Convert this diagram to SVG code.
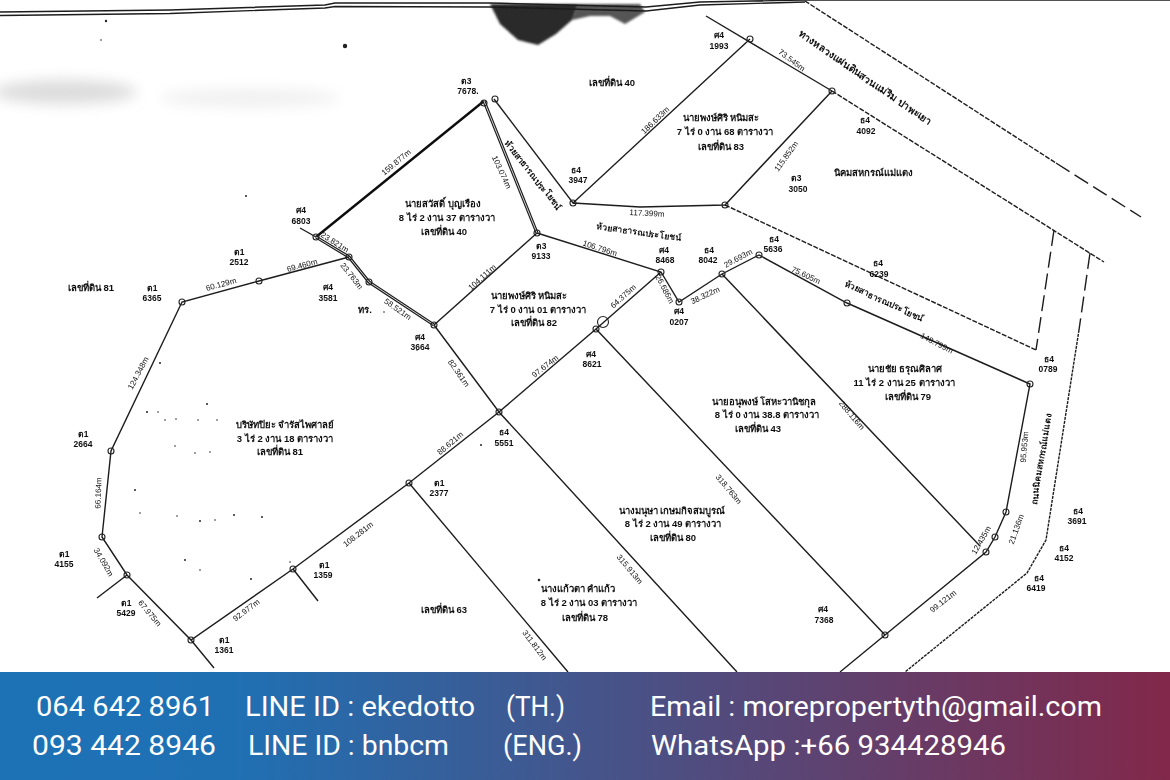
<svg xmlns="http://www.w3.org/2000/svg" width="1170" height="780" viewBox="0 0 1170 780">
<style>
.l{fill:none;stroke:#1c1c1c;stroke-width:1.4}
.th{stroke-width:2.4;stroke:#111}
.in{stroke:#fff;stroke-width:.8}
.d{stroke-dasharray:5 1.5}
.ld{stroke-dasharray:16 6}
circle.n{fill:none;stroke:#222;stroke-width:1.1}
text{font-family:"Liberation Sans","Noto Sans",sans-serif;fill:#111}
.id{font-size:8.5px;text-anchor:middle;font-weight:700}
.o{font-size:9.5px;text-anchor:middle;font-weight:700}
.m{font-size:8px;text-anchor:middle}
.r{font-size:8.6px;text-anchor:middle;font-weight:700}
.b{font-family:"Roboto","Open Sans",sans-serif;font-size:27px;fill:#fff}
.s{fill:#222}
</style>
<defs>
<linearGradient id="g" x1="0" x2="1" y1="0" y2="0"><stop offset="0" stop-color="#1c72b5"/><stop offset=".2" stop-color="#1f70b3"/><stop offset="1" stop-color="#82284a"/></linearGradient>
<pattern id="dots" width="3" height="3" patternUnits="userSpaceOnUse"><rect width="3" height="3" fill="#111"/><circle cx="1" cy="1" r=".7" fill="#888"/></pattern>
<filter id="sc" x="-2%" y="-2%" width="104%" height="104%"><feGaussianBlur stdDeviation=".3"/></filter>
<filter id="sm" x="-20%" y="-50%" width="140%" height="200%"><feGaussianBlur stdDeviation="7"/></filter>
<filter id="bl" x="-20%" y="-50%" width="140%" height="200%"><feGaussianBlur stdDeviation="1"/></filter>
</defs>
<rect width="1170" height="780" fill="#fff"/>
<g id="smudge" filter="url(#sm)" fill="#dcdcdc">
<ellipse cx="65" cy="92" rx="72" ry="12"/><ellipse cx="250" cy="98" rx="90" ry="9" fill="#f0f0f0"/>
</g>
<g id="blob" filter="url(#bl)">
<path fill="url(#dots)" d="M490 4 578 4 572 20 556 34 538 45 518 40 500 24Z"/>
<path fill="#555" d="M578 4 640 4 645 12 625 24 610 16 590 16 572 20Z"/>
</g>
<g id="plan" filter="url(#sc)">
<g id="connectors">
<path class="l" d="M0 12 170 10 325 5 335 3 490 3 646 7 700 2 805 0 1170 0M0 15.5 170 13.5 325 8 335 6.5 490 7 646 11 700 5 805 2"/>
<path class="l th" d="M484 101 316 237"/>
<path class="l" style="stroke-width:3.2" d="M484 101 537 233M316 237 349 257 369 282 434 325"/>
<path class="l in" d="M484 101 537 233M316 237 349 257 369 282 434 325"/>
<path class="l" d="M300 228 316 237M494 99 573 203 750 39M706 16 832 91M573 203 640 207 725 205 832 91M537 233 434 325M537 233 661 272 679 302 722 274 759 255 847 303 1030 384 1006 512 995 537 986 552 885 635 840 672M722 274 980 546M661 272 596 329 499 412 409 483 293 569 191 640 127 575 102 537 111 451 182 302 259 281 349 257M434 325 499 412 737 672M596 329 885 635M409 483 568 672M191 640 214 668M293 569 318 601M127 575 97 598"/>
<path class="l d" d="M832 91 1104 262M725 205 1036 350M805 1 1056 163"/>
<path class="l ld" d="M1056 163 1141 217"/>
<path class="l ld" d="M1054 230 1036 350M1090 253 1079 330"/>
<path class="l d" style="stroke-dasharray:3 1" d="M1079 330 1046 540 1027 573 905 672"/>
<circle class="n" cx="484" cy="103" r="3"/><circle class="n" cx="495" cy="99" r="3"/><circle class="n" cx="316" cy="237" r="3"/><circle class="n" cx="349" cy="257" r="3"/><circle class="n" cx="369" cy="282" r="3"/><circle class="n" cx="434" cy="325" r="3"/><circle class="n" cx="537" cy="233" r="3"/><circle class="n" cx="573" cy="203" r="3"/><circle class="n" cx="750" cy="39" r="3"/><circle class="n" cx="832" cy="91" r="3"/><circle class="n" cx="725" cy="205" r="3"/><circle class="n" cx="661" cy="272" r="3"/><circle class="n" cx="679" cy="302" r="3"/><circle class="n" cx="722" cy="274" r="3"/><circle class="n" cx="759" cy="255" r="3"/><circle class="n" cx="847" cy="303" r="3"/><circle class="n" cx="1030" cy="384" r="3"/><circle class="n" cx="1006" cy="512" r="3"/><circle class="n" cx="995" cy="537" r="3"/><circle class="n" cx="986" cy="552" r="3"/><circle class="n" cx="885" cy="635" r="3"/><circle class="n" cx="596" cy="329" r="3"/><circle class="n" cx="603" cy="322" r="5.5"/><circle class="n" cx="499" cy="412" r="3"/><circle class="n" cx="409" cy="483" r="3"/><circle class="n" cx="293" cy="569" r="3"/><circle class="n" cx="191" cy="640" r="3"/><circle class="n" cx="127" cy="575" r="3"/><circle class="n" cx="102" cy="537" r="3"/><circle class="n" cx="111" cy="451" r="3"/><circle class="n" cx="182" cy="302" r="3"/><circle class="n" cx="259" cy="281" r="3"/>
</g>
<g id="specks" class="s">
<circle cx="345" cy="46" r="2.2"/><circle cx="106" cy="21" r="1.2"/><circle cx="101" cy="40" r=".8"/><circle cx="246" cy="196" r="1"/><circle cx="160" cy="363" r="1"/><circle cx="147" cy="412" r="1"/><circle cx="158" cy="412" r=".8"/><circle cx="207" cy="404" r="1"/><circle cx="165" cy="420" r=".8"/><circle cx="176" cy="419" r=".8"/><circle cx="198" cy="420" r=".8"/><circle cx="217" cy="420" r=".8"/><circle cx="175" cy="446" r=".8"/><circle cx="195" cy="453" r=".8"/><circle cx="210" cy="452" r=".8"/><circle cx="135" cy="490" r="1"/><circle cx="140" cy="513" r=".8"/><circle cx="177" cy="516" r=".8"/><circle cx="200" cy="521" r="1"/><circle cx="215" cy="520" r=".8"/><circle cx="234" cy="515" r="1"/><circle cx="262" cy="517" r="1"/><circle cx="185" cy="560" r="1"/><circle cx="200" cy="570" r=".8"/><circle cx="251" cy="579" r="1"/><circle cx="290" cy="562" r=".8"/><circle cx="539" cy="580" r="1.3"/><circle cx="481" cy="445" r="1"/><circle cx="417" cy="350" r=".8"/><circle cx="384" cy="312" r=".8"/>
</g>
<g id="owners">
<text class="o" x="443" y="207">นายสวัสดิ์ บุญเรือง</text><text class="o" x="447" y="221">8 ไร่ 2 งาน 37 ตารางวา</text><text class="o" x="444" y="235">เลขที่ดิน 40</text>
<text class="o" x="529" y="299">นายพงษ์ศิริ หนิมสะ</text><text class="o" x="538" y="313">7 ไร่ 0 งาน 01 ตารางวา</text><text class="o" x="534" y="326">เลขที่ดิน 82</text>
<text class="o" x="721" y="121">นายพงษ์ศิริ หนิมสะ</text><text class="o" x="725" y="135">7 ไร่ 0 งาน 68 ตารางวา</text><text class="o" x="721" y="150">เลขที่ดิน 83</text>
<text class="o" x="285" y="428">บริษัทปิยะ จำรัสไพศาลย์</text><text class="o" x="285" y="442">3 ไร่ 2 งาน 18 ตารางวา</text><text class="o" x="280" y="455">เลขที่ดิน 81</text>
<text class="o" x="764" y="405">นายอนุพงษ์ โสหะวานิชกุล</text><text class="o" x="767" y="418">8 ไร่ 0 งาน 38.8 ตารางวา</text><text class="o" x="758" y="432">เลขที่ดิน 43</text>
<text class="o" x="905" y="372">นายชัย ธรุณศิลาศ</text><text class="o" x="904" y="386">11 ไร่ 2 งาน 25 ตารางวา</text><text class="o" x="908" y="400">เลขที่ดิน 79</text>
<text class="o" x="672" y="514">นางมนุษา เกษมกิจสมบูรณ์</text><text class="o" x="673" y="527">8 ไร่ 2 งาน 49 ตารางวา</text><text class="o" x="673" y="541">เลขที่ดิน 80</text>
<text class="o" x="578" y="592">นางแก้วตา คำแก้ว</text><text class="o" x="589" y="606">8 ไร่ 2 งาน 03 ตารางวา</text><text class="o" x="585" y="621">เลขที่ดิน 78</text>
<text class="o" x="91" y="291">เลขที่ดิน 81</text><text class="o" x="612" y="86">เลขที่ดิน 40</text><text class="o" x="444" y="613">เลขที่ดิน 63</text>
<text class="o" x="873" y="176">นิคมสหกรณ์แม่แตง</text><text class="o" x="365" y="313">ทร.</text>
</g>
<g id="pegs">
<text class="id" x="301" y="213">ศ4</text><text class="id" x="301" y="224">6803</text>
<text class="id" x="239" y="255">ต1</text><text class="id" x="239" y="265">2512</text>
<text class="id" x="152" y="291">ต1</text><text class="id" x="152" y="301">6365</text>
<text class="id" x="328" y="290">ศ4</text><text class="id" x="328" y="301">3581</text>
<text class="id" x="420" y="340">ศ4</text><text class="id" x="420" y="350">3664</text>
<text class="id" x="466" y="84">ต3</text><text class="id" x="468" y="94">7678.</text>
<text class="id" x="576" y="173">ธ4</text><text class="id" x="578" y="183">3947</text>
<text class="id" x="541" y="249">ต3</text><text class="id" x="541" y="259">9133</text>
<text class="id" x="719" y="38">ศ4</text><text class="id" x="719" y="49">1993</text>
<text class="id" x="865" y="123">ธ4</text><text class="id" x="866" y="134">4092</text>
<text class="id" x="796" y="181">ต3</text><text class="id" x="798" y="192">3050</text>
<text class="id" x="664" y="253">ศ4</text><text class="id" x="665" y="263">8468</text>
<text class="id" x="709" y="253">ธ4</text><text class="id" x="708" y="263">8042</text>
<text class="id" x="774" y="242">ธ4</text><text class="id" x="773" y="252">5636</text>
<text class="id" x="878" y="266">ธ4</text><text class="id" x="879" y="277">6239</text>
<text class="id" x="679" y="314">ศ4</text><text class="id" x="679" y="325">0207</text>
<text class="id" x="591" y="357">ศ4</text><text class="id" x="592" y="367">8621</text>
<text class="id" x="1049" y="362">ธ4</text><text class="id" x="1048" y="372">0789</text>
<text class="id" x="1078" y="514">ธ4</text><text class="id" x="1077" y="524">3691</text>
<text class="id" x="1064" y="551">ธ4</text><text class="id" x="1064" y="561">4152</text>
<text class="id" x="1039" y="581">ธ4</text><text class="id" x="1036" y="591">6419</text>
<text class="id" x="823" y="612">ศ4</text><text class="id" x="824" y="623">7368</text>
<text class="id" x="504" y="435">ธ4</text><text class="id" x="504" y="446">5551</text>
<text class="id" x="83" y="437">ต1</text><text class="id" x="83" y="447">2664</text>
<text class="id" x="64" y="557">ต1</text><text class="id" x="64" y="567">4155</text>
<text class="id" x="126" y="606">ต1</text><text class="id" x="126" y="616">5429</text>
<text class="id" x="224" y="643">ต1</text><text class="id" x="224" y="653">1361</text>
<text class="id" x="324" y="568">ต1</text><text class="id" x="323" y="578">1359</text>
<text class="id" x="439" y="486">ต1</text><text class="id" x="439" y="496">2377</text>
</g>
<g id="roads">
<text class="r" transform="translate(533 175) rotate(52)" y="3">ห้วยสาธารณประโยชน์</text>
<text class="r" transform="translate(639 232) rotate(8)" y="3">ห้วยสาธารณประโยชน์</text>
<text class="r" transform="translate(884 301) rotate(25)" y="3">ห้วยสาธารณประโยชน์</text>
<text class="r" transform="translate(865 78) rotate(34.6)" y="3" style="font-size:10px">ทางหลวงแผ่นดินสวนแม่ริม ปาพะเยา</text>
<text class="r" transform="translate(1041 459) rotate(-81)" y="3">ถนนนิคมสหกรณ์แม่แตง</text>
</g>
<g id="measures">
<text class="m" transform="translate(396 162) rotate(-40)" y="3">159.877m</text>
<text class="m" transform="translate(502 172) rotate(65)" y="3">103.074m</text>
<text class="m" transform="translate(335 242) rotate(32)" y="3">23.821m</text>
<text class="m" transform="translate(352 276) rotate(52)" y="3">23.763m</text>
<text class="m" transform="translate(398 309) rotate(35)" y="3">58.521m</text>
<text class="m" transform="translate(302 265) rotate(-15)" y="3">69.460m</text>
<text class="m" transform="translate(221 284) rotate(-15)" y="3">60.129m</text>
<text class="m" transform="translate(482 277) rotate(-42)" y="3">104.111m</text>
<text class="m" transform="translate(600 248) rotate(18)" y="3">106.796m</text>
<text class="m" transform="translate(623 296) rotate(-42)" y="3">64.375m</text>
<text class="m" transform="translate(665 289) rotate(62)" y="3">26.686m</text>
<text class="m" transform="translate(705 295) rotate(-25)" y="3">38.322m</text>
<text class="m" transform="translate(738 258) rotate(-28)" y="3">29.693m</text>
<text class="m" transform="translate(806 275) rotate(25)" y="3">75.605m</text>
<text class="m" transform="translate(937 343) rotate(27)" y="3">148.799m</text>
<text class="m" transform="translate(647 213) rotate(3)" y="3">117.399m</text>
<text class="m" transform="translate(655 120) rotate(-44)" y="3">186.633m</text>
<text class="m" transform="translate(792 60) rotate(37)" y="3">73.545m</text>
<text class="m" transform="translate(786 156) rotate(-54)" y="3">115.852m</text>
<text class="m" transform="translate(545 366) rotate(-38)" y="3">97.674m</text>
<text class="m" transform="translate(459 373) rotate(55)" y="3">82.361m</text>
<text class="m" transform="translate(450 443) rotate(-40)" y="3">88.621m</text>
<text class="m" transform="translate(358 534) rotate(-38)" y="3">108.281m</text>
<text class="m" transform="translate(246 610) rotate(-37)" y="3">92.977m</text>
<text class="m" transform="translate(150 613) rotate(50)" y="3">67.975m</text>
<text class="m" transform="translate(104 562) rotate(60)" y="3">34.092m</text>
<text class="m" transform="translate(98 493) rotate(-88)" y="3">66.164m</text>
<text class="m" transform="translate(138 373) rotate(-62)" y="3">124.348m</text>
<text class="m" transform="translate(535 645) rotate(53)" y="3">311.812m</text>
<text class="m" transform="translate(630 569) rotate(50)" y="3">315.913m</text>
<text class="m" transform="translate(729 489) rotate(50)" y="3">318.763m</text>
<text class="m" transform="translate(852 415) rotate(50)" y="3">288.116m</text>
<text class="m" transform="translate(1024 447) rotate(-85)" y="3">95.953m</text>
<text class="m" transform="translate(1016 529) rotate(-70)" y="3">21.136m</text>
<text class="m" transform="translate(981 540) rotate(-60)" y="3">12.435m</text>
<text class="m" transform="translate(943 601) rotate(-38)" y="3">99.121m</text>
</g>
</g>
<g id="banner">
<rect y="672" width="1170" height="108" fill="url(#g)"/>
<text class="b" x="36" y="716" textLength="178" lengthAdjust="spacingAndGlyphs">064 642 8961</text>
<text class="b" x="245" y="716" textLength="230" lengthAdjust="spacingAndGlyphs">LINE ID : ekedotto</text>
<text class="b" x="506" y="716" textLength="59" lengthAdjust="spacingAndGlyphs">(TH.)</text>
<text class="b" x="650" y="716" textLength="452" lengthAdjust="spacingAndGlyphs">Email : morepropertyth@gmail.com</text>
<text class="b" x="32" y="755" textLength="184" lengthAdjust="spacingAndGlyphs">093 442 8946</text>
<text class="b" x="248" y="755" textLength="201" lengthAdjust="spacingAndGlyphs">LINE ID : bnbcm</text>
<text class="b" x="503" y="755" textLength="79" lengthAdjust="spacingAndGlyphs">(ENG.)</text>
<text class="b" x="651" y="755" textLength="355" lengthAdjust="spacingAndGlyphs">WhatsApp :+66 934428946</text>
</g>
</svg>
